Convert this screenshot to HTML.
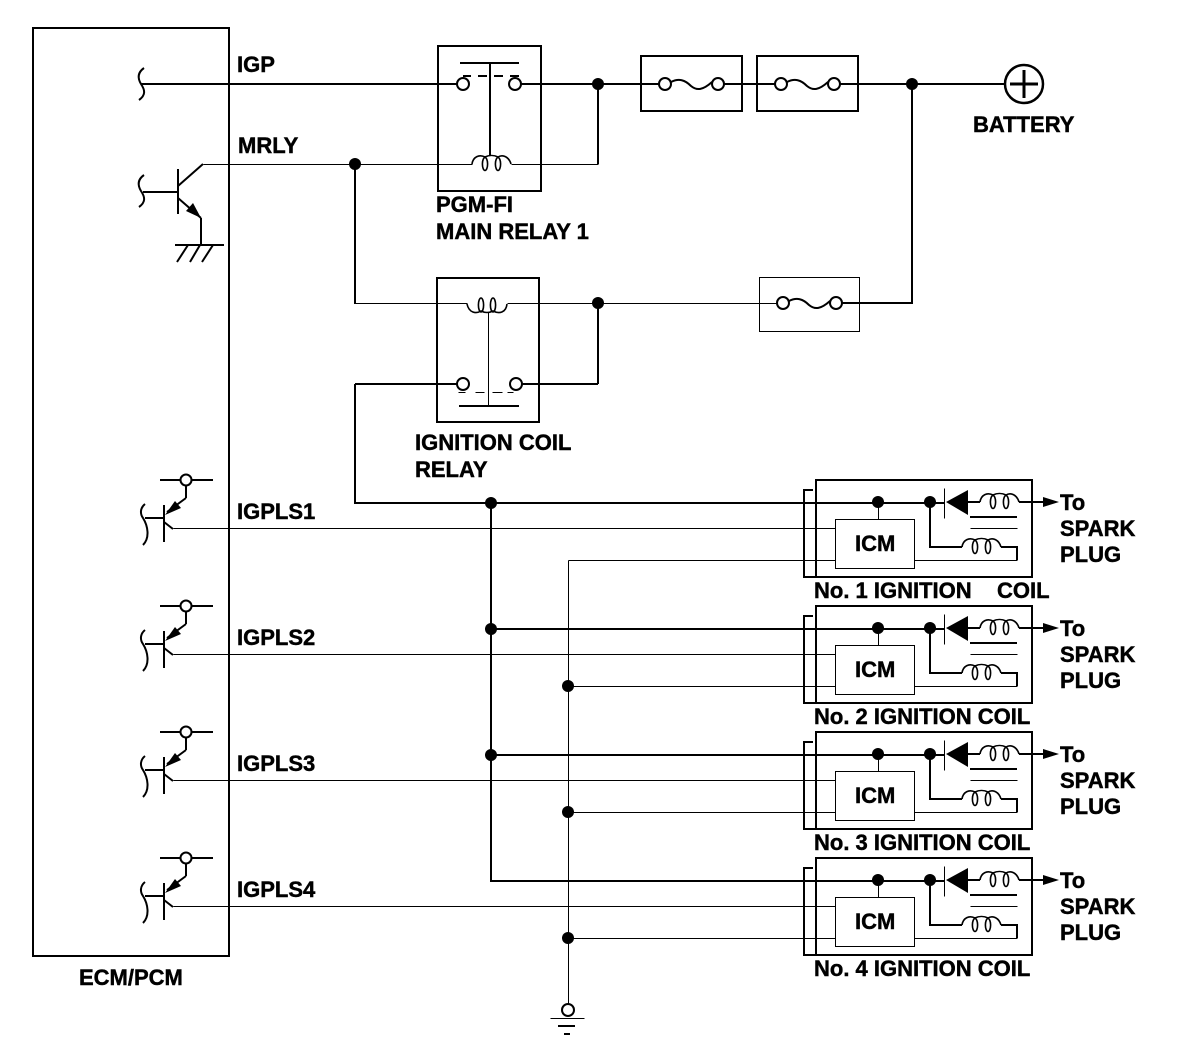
<!DOCTYPE html>
<html><head><meta charset="utf-8"><style>
html,body{margin:0;padding:0;background:#fff}
svg{display:block}
text{font-family:"Liberation Sans",Arial,sans-serif;font-weight:bold;font-size:22px;fill:#000;stroke:#000;stroke-width:.45px}
.l{fill:none;stroke:#000;stroke-width:2;shape-rendering:crispEdges}
.t{fill:none;stroke:#000;stroke-width:1;shape-rendering:crispEdges;transform:translate(.5px,.5px)}
.c{fill:#fff;stroke:#000;stroke-width:2}
.p{fill:none;stroke:#000;stroke-width:2}
.q{fill:none;stroke:#000;stroke-width:1.6}
.d{fill:#000;stroke:none}
</style></head><body>
<svg xmlns="http://www.w3.org/2000/svg" width="1200" height="1056" viewBox="0 0 1200 1056">
<defs>
<g id="coil"><path class="q" d="M0,0C1,-7 7,-10 13,-7C17,-9 22,-9 26,-7C31,-10 37,-7 39,0"/><ellipse class="q" cx="13" cy="0" rx="2.6" ry="6.5"/><ellipse class="q" cx="26" cy="0" rx="2.6" ry="6.5"/></g>
<g id="fuse"><path class="p" d="M6,-2C14,-6 20,-4 26,2C32,7 38,6 47,-2"/></g>
<g id="tr">
<path class="p" d="M145,504C140,508 140,514 143,518C148,526 150,538 143,545"/>
<path class="l" d="M145,518H164M164,505V542M160,480H213M186,486V498"/>
<path class="p" d="M186,498L167,512M164,522L173,529"/>
<path class="d" d="M165,515L175,501L181,508Z"/>
<circle class="c" cx="186" cy="480" r="5.5"/>
<path class="t" d="M173,528H835M568,560H835"/>
</g>
<g id="ign">
<rect class="l" x="816" y="480" width="216" height="97"/>
<path class="l" d="M813,490H804V577H815M805,503H945"/>
<rect class="t" x="835" y="519" width="79" height="49"/>
<path class="t" d="M878,502V519M914,560H1017M970,528H1017"/>
<path class="l" d="M930,502V547H962M1001,547H1017V560M970,517H1017"/>
<circle class="d" cx="878" cy="502" r="6"/>
<circle class="d" cx="930" cy="502" r="6"/>
<path class="t" d="M944,488V518"/>
<path class="d" d="M946,502L968,490V515Z"/>
<path class="l" d="M968,502H980M1019,502H1045"/>
<path class="d" d="M1043,497L1059,502L1043,507Z"/>
<use href="#coil" x="980" y="502"/>
<use href="#coil" x="962" y="547"/>
<text x="855" y="551">ICM</text>
<text x="1060" y="510">To</text>
<text x="1060" y="536">SPARK</text>
<text x="1060" y="562">PLUG</text>
</g>
</defs>

<rect class="l" x="33" y="28" width="196" height="928"/>
<text x="79" y="985">ECM/PCM</text>

<!-- IGP -->
<path class="p" d="M144,68C137,73 138,79 141,84C145,90 146,95 139,100"/>
<path class="l" d="M141,84H457M521,84H659M724,84H775M840,84H1005"/>
<text x="237" y="72">IGP</text>

<!-- Main relay -->
<rect class="l" x="438" y="46" width="103" height="145"/>
<circle class="c" cx="463" cy="84" r="6"/>
<circle class="c" cx="515" cy="84" r="6"/>
<path class="l" d="M460,63H519M490,63V155M463,76H471M478,76H487M494,76H503M510,76H519"/>
<use href="#coil" x="472" y="164"/>
<path class="t" d="M203,164H472M511,164H598"/>
<path class="l" d="M598,84V164"/>
<circle class="d" cx="598" cy="84" r="6"/>
<text x="436" y="212">PGM-FI</text>
<text x="436" y="239">MAIN RELAY 1</text>

<!-- Fuses -->
<rect class="l" x="641" y="56" width="101" height="55"/>
<use href="#fuse" x="665" y="84"/>
<circle class="c" cx="665" cy="84" r="6"/>
<circle class="c" cx="718" cy="84" r="6"/>
<rect class="l" x="757" y="56" width="101" height="55"/>
<use href="#fuse" x="781" y="84"/>
<circle class="c" cx="781" cy="84" r="6"/>
<circle class="c" cx="834" cy="84" r="6"/>
<circle class="d" cx="912" cy="84" r="6"/>
<path class="l" d="M912,84V303H842"/>
<circle class="c" cx="1024" cy="84" r="19" style="stroke-width:2.5"/>
<path class="l" style="stroke-width:3" d="M1024,70V98M1010,84H1038"/>
<text x="973" y="132">BATTERY</text>
<rect class="t" x="759" y="277" width="100" height="54"/>
<use href="#fuse" x="783" y="303"/>
<circle class="c" cx="783" cy="303" r="6"/>
<circle class="c" cx="836" cy="303" r="6"/>
<path class="t" d="M598,303H777"/>

<!-- MRLY transistor -->
<path class="p" d="M144,175C137,180 138,186 141,191C145,197 146,202 139,207"/>
<path class="l" d="M143,192H178M178,169V214M201,218V245M175,245H224"/>
<path class="p" d="M178,186L203,164M178,198L201,218M177,262L188,245M190,262L200,245M202,262L213,245"/>
<path class="d" d="M186,211L193,203L201,218Z"/>
<text x="238" y="153">MRLY</text>

<!-- Ignition relay -->
<circle class="d" cx="355" cy="164" r="6"/>
<path class="l" d="M355,164V304M598,303V384M355,384V503H805M521,384H598M355,384H458"/>
<path class="t" d="M355,303H467M507,303H598"/>
<rect class="l" x="437" y="278" width="102" height="144"/>
<path class="q" d="M467,304C469,313 476,314 481,311C485,313 489,313 493,311C499,314 506,313 507,304"/>
<ellipse class="q" cx="481" cy="305" rx="2.6" ry="7"/>
<ellipse class="q" cx="493" cy="305" rx="2.6" ry="7"/>
<path class="t" d="M488,312V406M458,392H465M475,392H484M492,392H502M507,392H513"/>
<path class="l" d="M459,406H519"/>
<circle class="c" cx="463" cy="384" r="6"/>
<circle class="c" cx="516" cy="384" r="6"/>
<circle class="d" cx="598" cy="303" r="6"/>
<text x="415" y="450">IGNITION COIL</text>
<text x="415" y="477">RELAY</text>

<!-- Buses -->
<path class="l" d="M491,503V881H805M491,629H805M491,755H805"/>
<path class="t" d="M568,560V1003M568,686H835"/>
<circle class="d" cx="491" cy="503" r="6"/>
<circle class="d" cx="491" cy="629" r="6"/>
<circle class="d" cx="491" cy="755" r="6"/>
<circle class="d" cx="568" cy="686" r="6"/>
<circle class="d" cx="568" cy="812" r="6"/>
<circle class="d" cx="568" cy="938" r="6"/>
<circle class="c" cx="568" cy="1010" r="6"/>
<path class="l" d="M558,1026H575"/>
<path class="t" d="M550,1018H584"/>
<path class="l" d="M564,1034H570"/>

<!-- Transistors -->
<use href="#tr"/>
<use href="#tr" y="126"/>
<use href="#tr" y="252"/>
<use href="#tr" y="378"/>
<text x="237" y="519">IGPLS1</text>
<text x="237" y="645">IGPLS2</text>
<text x="237" y="771">IGPLS3</text>
<text x="237" y="897">IGPLS4</text>

<!-- Coils -->
<use href="#ign"/>
<use href="#ign" y="126"/>
<use href="#ign" y="252"/>
<use href="#ign" y="378"/>
<text x="814" y="598">No. 1 IGNITION</text>
<text x="997" y="598">COIL</text>
<text x="814" y="724">No. 2 IGNITION COIL</text>
<text x="814" y="850">No. 3 IGNITION COIL</text>
<text x="814" y="976">No. 4 IGNITION COIL</text>
</svg>
</body></html>
